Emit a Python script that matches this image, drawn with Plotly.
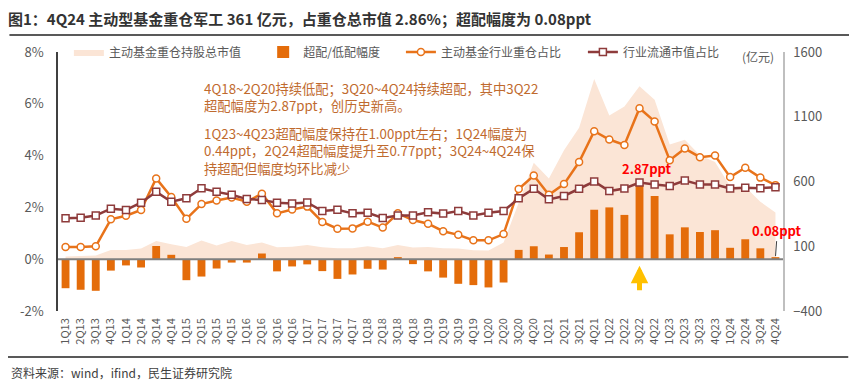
import plotly.graph_objects as go

quarters = ["1Q13","2Q13","3Q13","4Q13","1Q14","2Q14","3Q14","4Q14","1Q15","2Q15","3Q15","4Q15",
            "1Q16","2Q16","3Q16","4Q16","1Q17","2Q17","3Q17","4Q17","1Q18","2Q18","3Q18","4Q18",
            "1Q19","2Q19","3Q19","4Q19","1Q20","2Q20","3Q20","4Q20","1Q21","2Q21","3Q21","4Q21",
            "1Q22","2Q22","3Q22","4Q22","1Q23","2Q23","3Q23","4Q23","1Q24","2Q24","3Q24","4Q24"]

# 主动基金重仓持股总市值 (亿元, right axis)
fund_mv = [20, 22, 28, 72, 72, 82, 141, 115, 95, 144, 105, 141,
           110, 128, 92, 97, 110, 92, 85, 85, 100, 85, 110, 90,
           95, 85, 82, 70, 67, 128, 436, 744, 623, 841, 1015, 1392,
           1110, 1180, 1336, 1231, 885, 923, 803, 751, 564, 559, 444, 361]

# 超配/低配幅度 (ppt)
over_under = [-1.12, -1.18, -1.22, -0.44, -0.24, -0.32, 0.51, 0.17, -0.81, -0.67, -0.36, -0.13,
              -0.13, 0.22, -0.47, -0.28, -0.20, -0.46, -0.76, -0.59, -0.37, -0.40, 0.08, -0.19,
              -0.47, -0.71, -0.95, -1.00, -1.09, -0.90, 0.36, 0.50, 0.18, 0.47, 1.04, 1.91,
              2.00, 1.71, 2.87, 2.44, 0.96, 1.23, 1.05, 1.12, 0.44, 0.77, 0.42, 0.08]

# 主动基金行业重仓占比 (%)
fund_share = [0.47, 0.47, 0.50, 1.54, 1.68, 1.90, 3.12, 2.40, 1.56, 2.13, 2.27, 2.38,
              2.22, 2.53, 1.77, 1.92, 2.03, 1.44, 1.18, 1.19, 1.45, 1.22, 1.77, 1.51,
              1.37, 1.08, 0.94, 0.73, 0.73, 0.97, 2.71, 3.23, 2.49, 2.90, 3.75, 4.94,
              4.62, 4.41, 5.83, 5.32, 3.82, 4.27, 3.94, 4.00, 3.17, 3.53, 3.15, 2.86]

# 行业流通市值占比 (%)
float_share = [1.58, 1.60, 1.69, 1.95, 1.90, 2.18, 2.60, 2.22, 2.35, 2.74, 2.60, 2.49,
               2.32, 2.29, 2.18, 2.15, 2.19, 1.86, 1.91, 1.77, 1.79, 1.59, 1.69, 1.69,
               1.81, 1.76, 1.86, 1.69, 1.79, 1.86, 2.35, 2.72, 2.31, 2.44, 2.72, 3.00,
               2.63, 2.73, 2.96, 2.88, 2.83, 3.04, 2.88, 2.88, 2.73, 2.76, 2.74, 2.78]

left_ticks = [-2, 0, 2, 4, 6, 8]
left_ticktext = ["-2%", "0%", "2%", "4%", "6%", "8%"]
right_ticks = [-400, 100, 600, 1100, 1600]

FONT = "Noto Sans CJK SC"
ORANGE = "#E8731A"
BAR = "#E46C0A"
DARKRED = "#8E3B3B"
AREA = "#FBE5D6"
NOTE = "#BF6A2E"

fig = go.Figure()
fig.add_trace(go.Scatter(x=quarters, y=fund_mv, yaxis="y", name="主动基金重仓持股总市值",
                         mode="lines", fill="tozeroy", fillcolor=AREA,
                         line=dict(width=0, color=AREA), legend="legend"))
fig.add_trace(go.Bar(x=quarters, y=over_under, yaxis="y2", name="超配/低配幅度",
                     marker=dict(color=BAR, line=dict(width=0)), width=0.52, legend="legend2"))
fig.add_trace(go.Scatter(x=quarters, y=fund_share, yaxis="y2", name="主动基金行业重仓占比",
                         mode="lines+markers", line=dict(color=ORANGE, width=2.5),
                         marker=dict(symbol="circle", size=7, color="white",
                                     line=dict(color=ORANGE, width=1.5)), legend="legend3"))
fig.add_trace(go.Scatter(x=quarters, y=float_share, yaxis="y2", name="行业流通市值占比",
                         mode="lines+markers", line=dict(color=DARKRED, width=2.5),
                         marker=dict(symbol="square", size=7, color="white",
                                     line=dict(color=DARKRED, width=1.5)), legend="legend4"))

def leg(x):
    return dict(orientation="h", x=x, xanchor="left", y=1.0, yanchor="middle",
                font=dict(size=12, color="#595959"), bgcolor="rgba(0,0,0,0)", itemwidth=30)

# page body has an 8px margin: the figure is sized/placed so the plot area lands where the reference has it
fig.update_layout(
    width=849, height=372,
    margin=dict(l=46, r=74, t=44, b=69),
    paper_bgcolor="white", plot_bgcolor="rgba(0,0,0,0)",
    font=dict(family=FONT, size=12, color="#595959"),
    title=dict(text="<b>图1：4Q24 主动型基金重仓军工 361 亿元，占重仓总市值 2.86%；超配幅度为 0.08ppt</b>",
               x=0.0, xanchor="left", y=0.968, yanchor="middle",
               font=dict(family=FONT, size=15, color="#333333")),
    showlegend=True,
    legend=leg(0.015), legend2=leg(0.283), legend3=leg(0.473), legend4=leg(0.724),
    bargap=0.4,
    xaxis=dict(type="category", tickangle=-90, tickfont=dict(size=11, color="#595959"),
               showline=False, showgrid=False, ticks="", ticklabelstandoff=4,
               range=[-0.5, len(quarters) - 0.5]),
    yaxis=dict(side="right", range=[-400, 1600], tickvals=right_ticks,
               showgrid=False, zeroline=False, showline=True, linecolor="#BFBFBF",
               linewidth=1.5, ticks="", tickfont=dict(size=13, color="#595959"),
               ticklabelstandoff=6),
    yaxis2=dict(side="left", overlaying="y", range=[-2, 8], tickvals=left_ticks,
                ticktext=left_ticktext, showgrid=False, zeroline=False, showline=True,
                linecolor="#404040", linewidth=1.5, ticks="",
                tickfont=dict(size=13, color="#595959"), ticklabelstandoff=10),
)

# zero baseline
fig.add_shape(type="line", xref="paper", yref="y2", x0=0, x1=1, y0=0, y1=0,
              line=dict(color="#7F7F7F", width=2), layer="above")
# title underline and footer line
fig.add_shape(type="line", xref="paper", yref="paper", x0=-0.067, x1=1.095, y0=1.066, y1=1.066,
              line=dict(color="#595959", width=2))
fig.add_shape(type="line", xref="paper", yref="paper", x0=-0.074, x1=1.09, y0=-0.178, y1=-0.178,
              line=dict(color="#595959", width=2))

fig.add_annotation(xref="paper", yref="paper", x=-0.067, y=-0.236, xanchor="left", yanchor="middle",
                   text="资料来源：wind，ifind，民生证券研究院", showarrow=False,
                   font=dict(size=12, color="#404040"))
fig.add_annotation(xref="paper", yref="paper", x=0.966, y=0.981, xanchor="center", yanchor="middle",
                   text="(亿元)", showarrow=False, font=dict(size=12, color="#595959"))

fig.add_annotation(xref="paper", yref="paper", x=0.199, y=0.826, xanchor="left", yanchor="middle",
                   align="left", showarrow=False, font=dict(size=13.3, color=NOTE),
                   text="4Q18~2Q20持续低配；3Q20~4Q24持续超配，其中3Q22<br>超配幅度为2.87ppt，创历史新高。")
fig.add_annotation(xref="paper", yref="paper", x=0.199, y=0.618, xanchor="left", yanchor="middle",
                   align="left", showarrow=False, font=dict(size=13.3, color=NOTE),
                   text="1Q23~4Q23超配幅度保持在1.00ppt左右；1Q24幅度为<br>0.44ppt，2Q24超配幅度提升至0.77ppt；3Q24~4Q24保<br>持超配但幅度均环比减少")

peak_i = over_under.index(max(over_under))
fig.add_annotation(x=quarters[peak_i], y=over_under[peak_i], xref="x", yref="y2",
                   text="<b>2.87ppt</b>", showarrow=False, yanchor="bottom", yshift=5, xshift=7,
                   font=dict(size=13, color="#FF0000"))
fig.add_annotation(x=quarters[peak_i], y=-0.25, xref="x", yref="y2", text="",
                   showarrow=True, arrowhead=2, arrowsize=0.7, arrowwidth=5,
                   arrowcolor="#FFC000", ax=0, ay=26, standoff=0)
fig.add_annotation(x=quarters[-1], y=over_under[-1], xref="x", yref="y2",
                   text="<b>0.08ppt</b>", showarrow=True, arrowhead=0, arrowwidth=1,
                   arrowcolor="#404040", ax=2, ay=-27, standoff=1,
                   font=dict(size=13, color="#FF0000"))

fig.write_html("out.html")
